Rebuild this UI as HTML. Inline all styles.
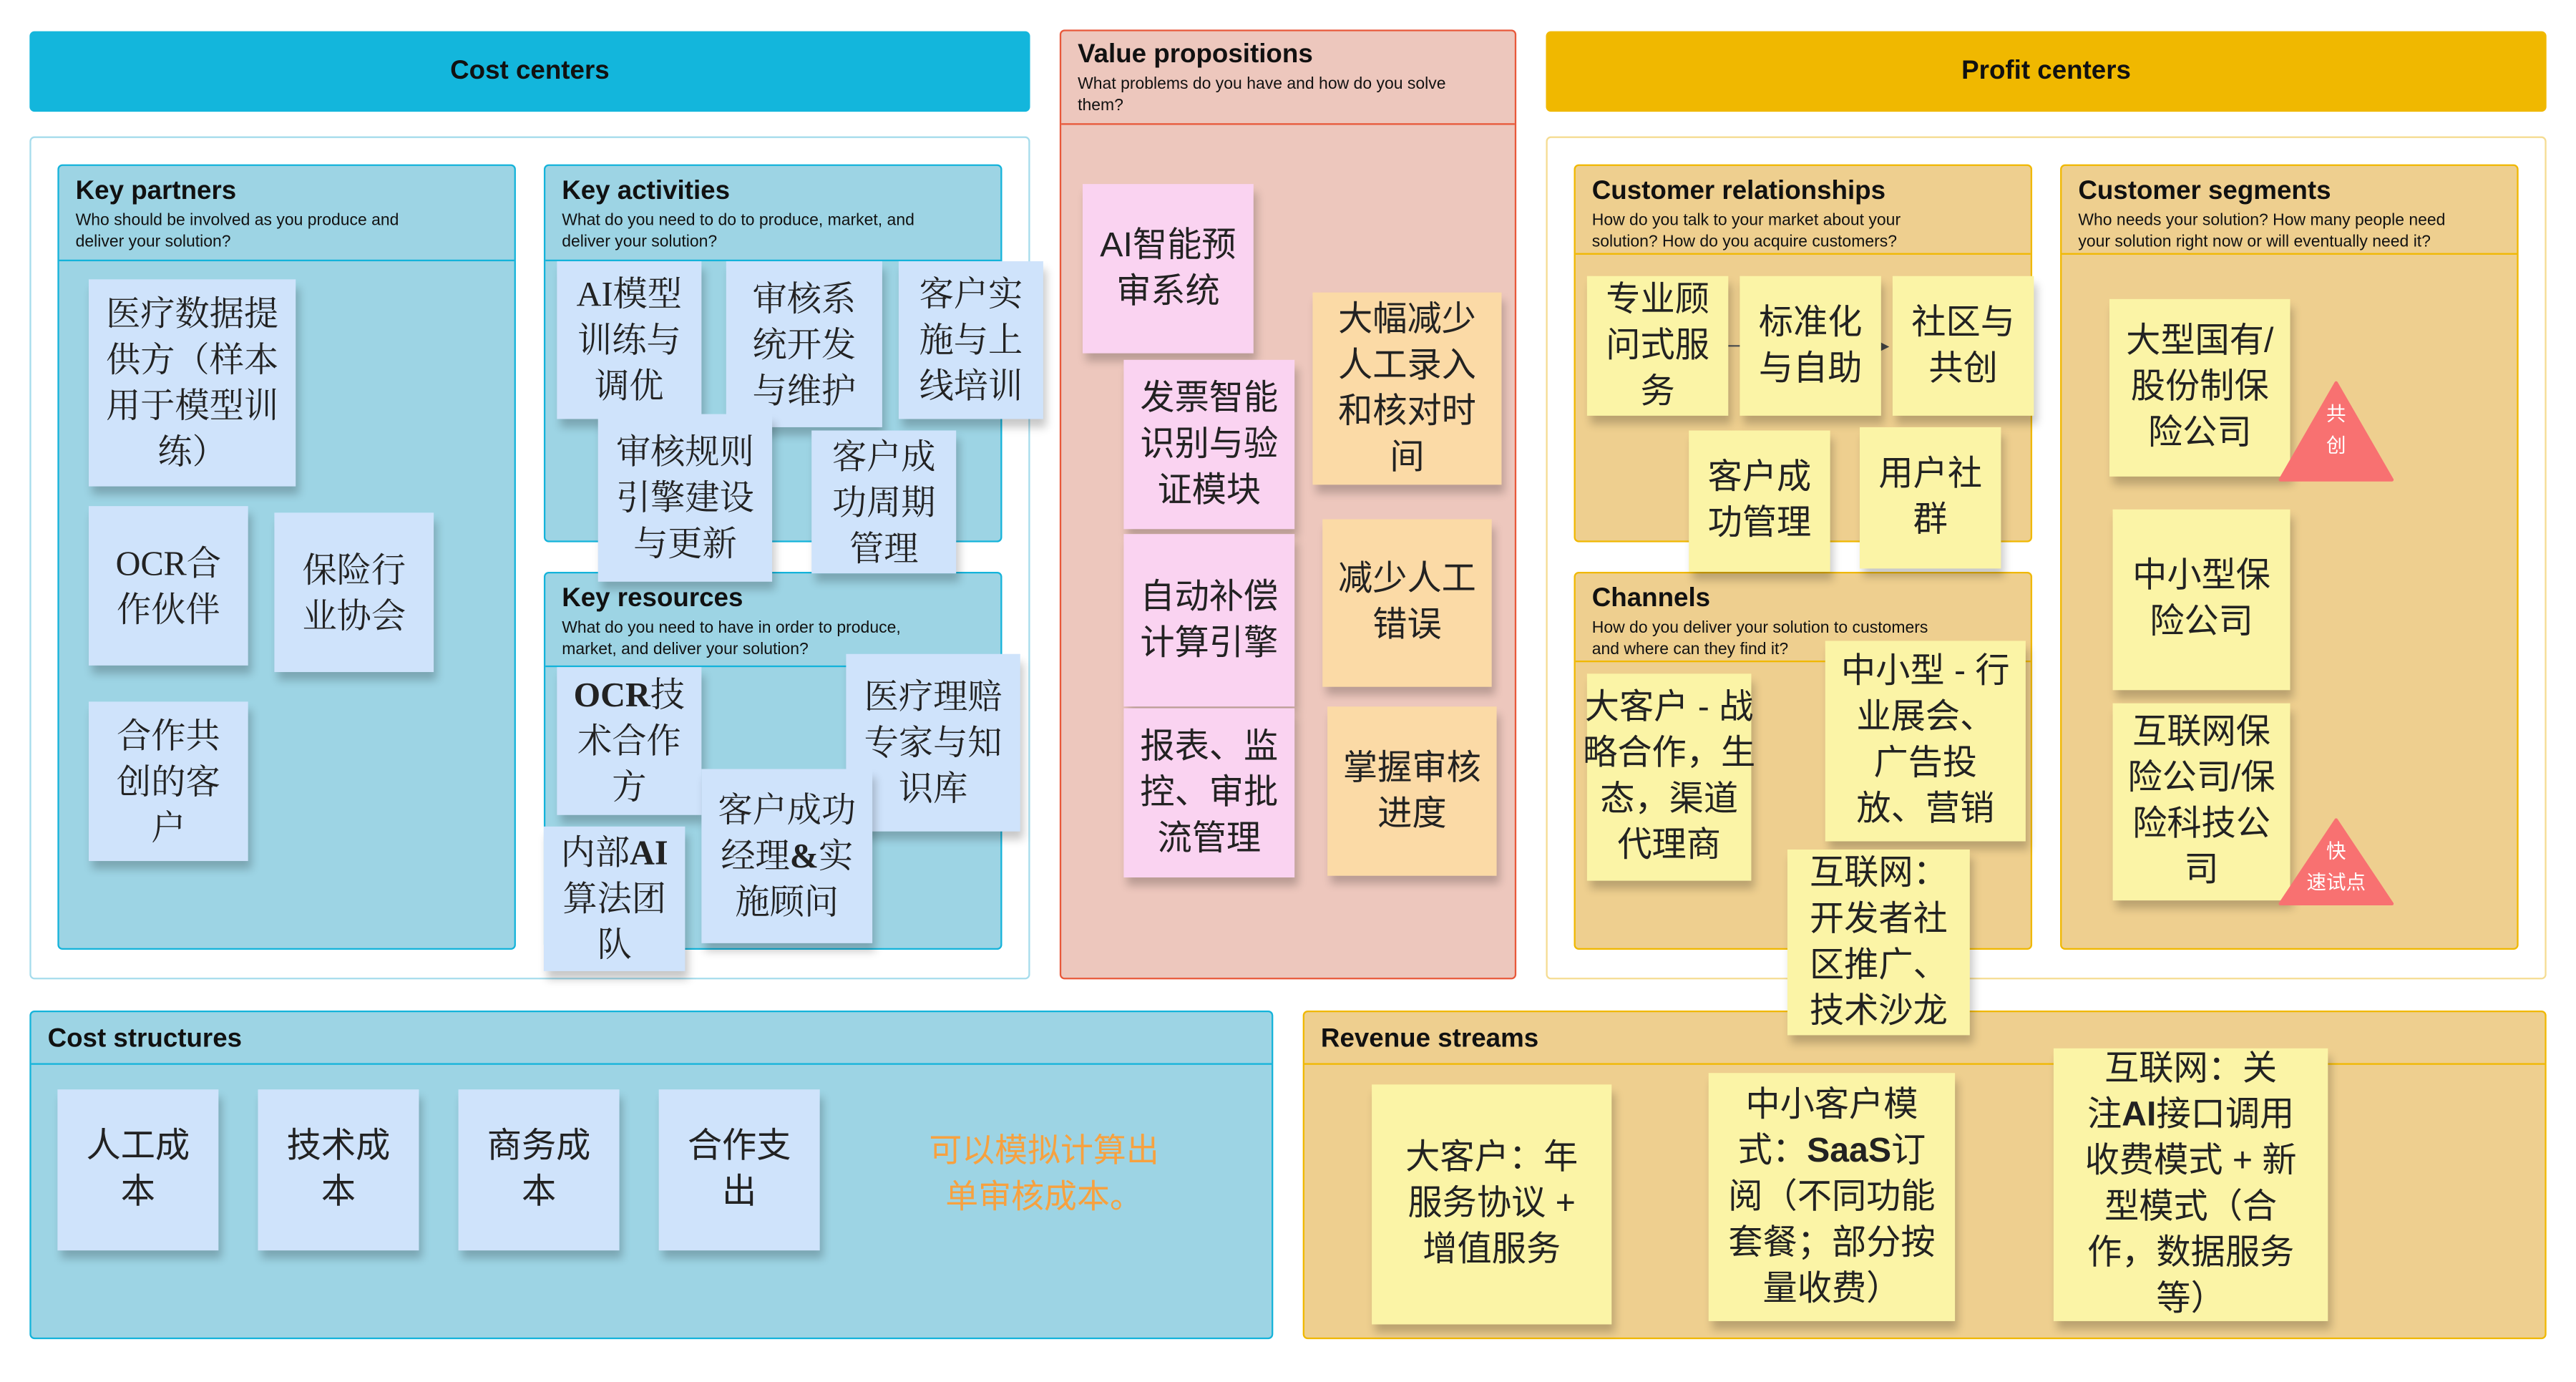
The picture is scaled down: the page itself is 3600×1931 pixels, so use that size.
<!DOCTYPE html>
<html><head><meta charset="utf-8">
<style>
html,body{margin:0;padding:0;background:#fff;}
body{width:3600px;height:1930px;overflow:hidden;position:relative;}
#w{position:absolute;left:0;top:0;width:1568px;height:841px;transform:scale(2.29592);transform-origin:0 0;font-family:"Liberation Sans","Noto Sans CJK SC",sans-serif;}
.a{position:absolute;box-sizing:border-box;}
.hdr{display:flex;align-items:center;justify-content:center;font-weight:bold;font-size:16px;color:#111;border-radius:3px;}
.panel{border-radius:3px;}
.pt{position:absolute;left:10px;top:7px;font-weight:bold;font-size:16px;color:#111;}
.ps{position:absolute;left:10px;top:27px;font-size:10px;line-height:13px;color:#111;}
.div{position:absolute;left:0;right:0;height:0;}
.s{position:absolute;box-sizing:border-box;display:flex;align-items:center;justify-content:center;text-align:center;white-space:nowrap;font-family:"Liberation Serif","Noto Serif CJK SC",serif;font-size:21px;line-height:28px;color:#222;padding:0;box-shadow:2px 5px 5px rgba(0,0,0,.22);}
.b{background:#cfe3fb;}
.y{background:#fbf4a6;}
.p{background:#fad3f1;font-family:"Liberation Sans","Noto Sans CJK SC",sans-serif;}
.o{background:#fbdaa6;font-family:"Liberation Sans","Noto Sans CJK SC",sans-serif;}
.sa{font-family:"Liberation Sans","Noto Sans CJK SC",sans-serif;}
</style></head><body><div id="w">

<div class="a hdr" style="left:18px;top:19px;width:609px;height:49px;background:#13b6dc;">Cost centers</div>
<div class="a panel" style="left:18px;top:83px;width:609px;height:513px;border:1.5px solid #a6dcec;background:#fff;"></div>

<div class="a panel" style="left:35px;top:100px;width:279px;height:478px;background:#9dd4e4;border:1.5px solid #14b3da;">
 <div class="pt">Key partners</div><div class="ps">Who should be involved as you produce and<br>deliver your solution?</div>
 <div class="div" style="top:57px;border-top:1.5px solid #14b3da;"></div></div>
<div class="a panel" style="left:331px;top:100px;width:279px;height:230px;background:#9dd4e4;border:1.5px solid #14b3da;">
 <div class="pt">Key activities</div><div class="ps">What do you need to do to produce, market, and<br>deliver your solution?</div>
 <div class="div" style="top:57px;border-top:1.5px solid #14b3da;"></div></div>
<div class="a panel" style="left:331px;top:348px;width:279px;height:230px;background:#9dd4e4;border:1.5px solid #14b3da;">
 <div class="pt">Key resources</div><div class="ps">What do you need to have in order to produce,<br>market, and deliver your solution?</div>
 <div class="div" style="top:56px;border-top:1.5px solid #14b3da;"></div></div>

<div class="a panel" style="left:645px;top:18px;width:278px;height:578px;background:#edc7bd;border:1.5px solid #e8583a;">
 <div class="pt" style="top:6px;">Value propositions</div><div class="ps" style="top:26px;font-size:10px;">What problems do you have and how do you solve<br>them?</div>
 <div class="div" style="top:56px;border-top:1.5px solid #e8583a;"></div></div>

<div class="a hdr" style="left:941px;top:19px;width:609px;height:49px;background:#f0b800;">Profit centers</div>
<div class="a panel" style="left:941px;top:83px;width:609px;height:513px;border:1.5px solid #f5dc92;background:#fff;"></div>
<div class="a panel" style="left:958px;top:100px;width:279px;height:230px;background:#eecf8f;border:1.5px solid #f0b800;">
 <div class="pt">Customer relationships</div><div class="ps">How do you talk to your market about your<br>solution? How do you acquire customers?</div>
 <div class="div" style="top:53px;border-top:1.5px solid #f0b800;"></div></div>
<div class="a panel" style="left:958px;top:348px;width:279px;height:230px;background:#eecf8f;border:1.5px solid #f0b800;">
 <div class="pt">Channels</div><div class="ps">How do you deliver your solution to customers<br>and where can they find it?</div>
 <div class="div" style="top:53px;border-top:1.5px solid #f0b800;"></div></div>
<div class="a panel" style="left:1254px;top:100px;width:279px;height:478px;background:#eecf8f;border:1.5px solid #f0b800;">
 <div class="pt">Customer segments</div><div class="ps">Who needs your solution? How many people need<br>your solution right now or will eventually need it?</div>
 <div class="div" style="top:53px;border-top:1.5px solid #f0b800;"></div></div>

<div class="a panel" style="left:18px;top:615px;width:757px;height:200px;background:#9dd4e4;border:1.5px solid #14b3da;">
 <div class="pt" style="top:8px;">Cost structures</div>
 <div class="div" style="top:31px;border-top:1.5px solid #14b3da;"></div></div>
<div class="a panel" style="left:793px;top:615px;width:757px;height:200px;background:#eecf8f;border:1.5px solid #f0b800;">
 <div class="pt" style="top:8px;">Revenue streams</div>
 <div class="div" style="top:31px;border-top:1.5px solid #f0b800;"></div></div>

<!-- Key partners -->
<div class="s b" style="left:54px;top:170px;width:126px;height:126px;">医疗数据提<br>供方（样本<br>用于模型训<br>练）</div>
<div class="s b" style="left:54px;top:308px;width:97px;height:97px;">OCR合<br>作伙伴</div>
<div class="s b" style="left:167px;top:312px;width:97px;height:97px;">保险行<br>业协会</div>
<div class="s b" style="left:54px;top:427px;width:97px;height:97px;">合作共<br>创的客<br>户</div>

<!-- Key activities -->
<div class="s b" style="left:339px;top:159px;width:88px;height:96px;">AI模型<br>训练与<br>调优</div>
<div class="s b" style="left:442px;top:159px;width:95px;height:101px;">审核系<br>统开发<br>与维护</div>
<div class="s b" style="left:547px;top:159px;width:88px;height:96px;">客户实<br>施与上<br>线培训</div>
<div class="s b" style="left:364px;top:252px;width:106px;height:102px;">审核规则<br>引擎建设<br>与更新</div>
<div class="s b" style="left:494px;top:262px;width:88px;height:87px;">客户成<br>功周期<br>管理</div>

<!-- Key resources -->
<div class="s b" style="left:339px;top:406px;width:88px;height:90px;"><span><b>OCR</b>技<br>术合作<br>方</span></div>
<div class="s b" style="left:515px;top:398px;width:106px;height:108px;">医疗理赔<br>专家与知<br>识库</div>
<div class="s b" style="left:427px;top:468px;width:104px;height:106px;"><span>客户成功<br>经理<b>&amp;</b>实<br>施顾问</span></div>
<div class="s b" style="left:331px;top:503px;width:86px;height:88px;"><span>内部<b>AI</b><br>算法团<br>队</span></div>

<!-- Value props -->
<div class="s p" style="left:659px;top:112px;width:104px;height:103px;">AI智能预<br>审系统</div>
<div class="s p" style="left:684px;top:219px;width:104px;height:103px;">发票智能<br>识别与验<br>证模块</div>
<div class="s p" style="left:684px;top:325px;width:104px;height:105px;">自动补偿<br>计算引擎</div>
<div class="s p" style="left:684px;top:431px;width:104px;height:103px;">报表、监<br>控、审批<br>流管理</div>
<div class="s o" style="left:799px;top:178px;width:115px;height:117px;">大幅减少<br>人工录入<br>和核对时<br>间</div>
<div class="s o" style="left:805px;top:316px;width:103px;height:102px;">减少人工<br>错误</div>
<div class="s o" style="left:808px;top:430px;width:103px;height:103px;">掌握审核<br>进度</div>

<!-- Customer relationships -->
<div class="a" style="left:1050px;top:210px;width:10px;border-top:1px solid #555;"></div>
<div class="a" style="left:1144px;top:208px;width:0;height:0;border-left:6px solid #444;border-top:3px solid transparent;border-bottom:3px solid transparent;"></div>
<div class="s y sa" style="left:966px;top:168px;width:86px;height:85px;">专业顾<br>问式服<br>务</div>
<div class="s y sa" style="left:1059px;top:168px;width:86px;height:85px;">标准化<br>与自助</div>
<div class="s y sa" style="left:1152px;top:168px;width:86px;height:85px;">社区与<br>共创</div>
<div class="s y sa" style="left:1028px;top:262px;width:86px;height:86px;">客户成<br>功管理</div>
<div class="s y sa" style="left:1132px;top:260px;width:86px;height:86px;">用户社<br>群</div>

<!-- Channels -->
<div class="s y sa" style="left:966px;top:410px;width:100px;height:126px;">大客户 - 战<br>略合作，生<br>态，渠道<br>代理商</div>
<div class="s y sa" style="left:1111px;top:390px;width:122px;height:122px;">中小型 - 行<br>业展会、<br>广告投<br>放、营销</div>
<div class="s y sa" style="left:1088px;top:517px;width:111px;height:113px;">互联网：<br>开发者社<br>区推广、<br>技术沙龙</div>

<!-- Segments -->
<div class="s y sa" style="left:1284px;top:182px;width:110px;height:108px;">大型国有/<br>股份制保<br>险公司</div>
<div class="s y sa" style="left:1286px;top:310px;width:108px;height:110px;">中小型保<br>险公司</div>
<div class="s y sa" style="left:1286px;top:428px;width:108px;height:120px;">互联网保<br>险公司/保<br>险科技公<br>司</div>
<svg class="a" style="left:1386px;top:230px;" width="72" height="64"><polygon points="36,3 70,62 2,62" fill="#f87171" stroke="#f87171" stroke-linejoin="round" stroke-width="2"/><text x="36" y="26" font-size="12" fill="#fff" text-anchor="middle" font-family="Noto Sans CJK SC,sans-serif">共</text><text x="36" y="45" font-size="12" fill="#fff" text-anchor="middle" font-family="Noto Sans CJK SC,sans-serif">创</text></svg>
<svg class="a" style="left:1386px;top:496px;" width="72" height="56"><polygon points="36,3 70,54 2,54" fill="#f87171" stroke="#f87171" stroke-linejoin="round" stroke-width="2"/><text x="36" y="26" font-size="12" fill="#fff" text-anchor="middle" font-family="Noto Sans CJK SC,sans-serif">快</text><text x="36" y="45" font-size="12" fill="#fff" text-anchor="middle" font-family="Noto Sans CJK SC,sans-serif">速试点</text></svg>

<!-- Cost structures -->
<div class="s b sa" style="left:35px;top:663px;width:98px;height:98px;">人工成<br>本</div>
<div class="s b sa" style="left:157px;top:663px;width:98px;height:98px;">技术成<br>本</div>
<div class="s b sa" style="left:279px;top:663px;width:98px;height:98px;">商务成<br>本</div>
<div class="s b sa" style="left:401px;top:663px;width:98px;height:98px;">合作支<br>出</div>
<div class="a" style="left:548px;top:687px;width:175px;text-align:center;font-family:'Liberation Sans','Noto Sans CJK SC',sans-serif;font-size:20px;line-height:28px;color:#f7a13f;">可以模拟计算出<br>单审核成本。</div>

<!-- Revenue -->
<div class="s y sa" style="left:835px;top:660px;width:146px;height:146px;">大客户：年<br>服务协议 +<br>增值服务</div>
<div class="s y sa" style="left:1040px;top:653px;width:150px;height:151px;"><span>中小客户模<br>式：<b>SaaS</b>订<br>阅（不同功能<br>套餐；部分按<br>量收费）</span></div>
<div class="s y sa" style="left:1250px;top:638px;width:167px;height:166px;"><span>互联网：关<br>注<b>AI</b>接口调用<br>收费模式 + 新<br>型模式（合<br>作，数据服务<br>等）</span></div>

</div></body></html>
